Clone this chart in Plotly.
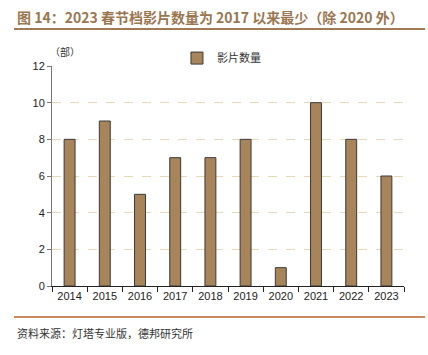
import plotly.graph_objects as go

years = ["2014", "2015", "2016", "2017", "2018", "2019", "2020", "2021", "2022", "2023"]
films = [8, 9, 5, 7, 7, 8, 1, 10, 8, 6]
y_ticks = [0, 2, 4, 6, 8, 10, 12]
series_name = "影片数量"
title_text = "图 14：2023 春节档影片数量为 2017 以来最少（除 2020 外）"
unit_text = "（部）"
source_text = "资料来源：灯塔专业版，德邦研究所"

FONT = "Liberation Sans, Arial, Noto Sans CJK SC, sans-serif"
CJK = "Noto Sans CJK SC, sans-serif"

fig = go.Figure()
fig.add_trace(go.Bar(
    x=years, y=films, name=series_name,
    marker=dict(color="#A8845A", line=dict(color="#3a3a3a", width=1)),
    width=0.31,
))

fig.update_layout(
    width=428, height=355,
    margin=dict(l=52, r=24, t=66, b=69, autoexpand=False),
    paper_bgcolor="white", plot_bgcolor="white",
    font=dict(family=FONT, size=11, color="#222"),
    showlegend=True,
    legend=dict(orientation="h", x=0.355, y=1.036, xanchor="left", yanchor="middle",
                font=dict(family=CJK, size=11, color="#333"),
                bgcolor="rgba(0,0,0,0)", itemwidth=30),
)
fig.update_xaxes(
    showline=True, linecolor="#222", linewidth=1,
    ticks="outside", ticklen=5, tickcolor="#222",
    tickson="boundaries", showgrid=False,
    tickfont=dict(size=11, color="#222"),
)
fig.update_yaxes(
    range=[0, 12], tickvals=y_ticks,
    showline=True, linecolor="#777", linewidth=1,
    ticks="outside", ticklen=4, tickcolor="#777",
    showgrid=True, gridcolor="#E6D8B8", griddash="dash", gridwidth=1,
    zeroline=False,
    tickfont=dict(size=11, color="#222"),
)

fig.add_annotation(text=f"<b>{title_text}</b>", xref="paper", yref="paper",
                   x=-0.105, y=1.223, xanchor="left", yanchor="middle", showarrow=False,
                   font=dict(family=CJK, size=14, color="#9A7650"))
fig.add_shape(type="line", xref="paper", yref="paper", x0=-0.108, x1=1.06, y0=1.168, y1=1.168,
              line=dict(color="#A07A55", width=2))
fig.add_annotation(text=unit_text, xref="paper", yref="paper",
                   x=-0.01, y=1.064, xanchor="left", yanchor="middle", showarrow=False,
                   font=dict(family=CJK, size=10, color="#333"))
fig.add_shape(type="line", xref="paper", yref="paper", x0=-0.108, x1=1.06, y0=-0.141, y1=-0.141,
              line=dict(color="#C88A5E", width=2))
fig.add_annotation(text=source_text, xref="paper", yref="paper",
                   x=-0.105, y=-0.214, xanchor="left", yanchor="middle", showarrow=False,
                   font=dict(family=CJK, size=11, color="#333"))

fig.write_html("out.html", config={"displayModeBar": False},
               post_script="document.body.style.margin='0';document.body.style.overflow='hidden';")
